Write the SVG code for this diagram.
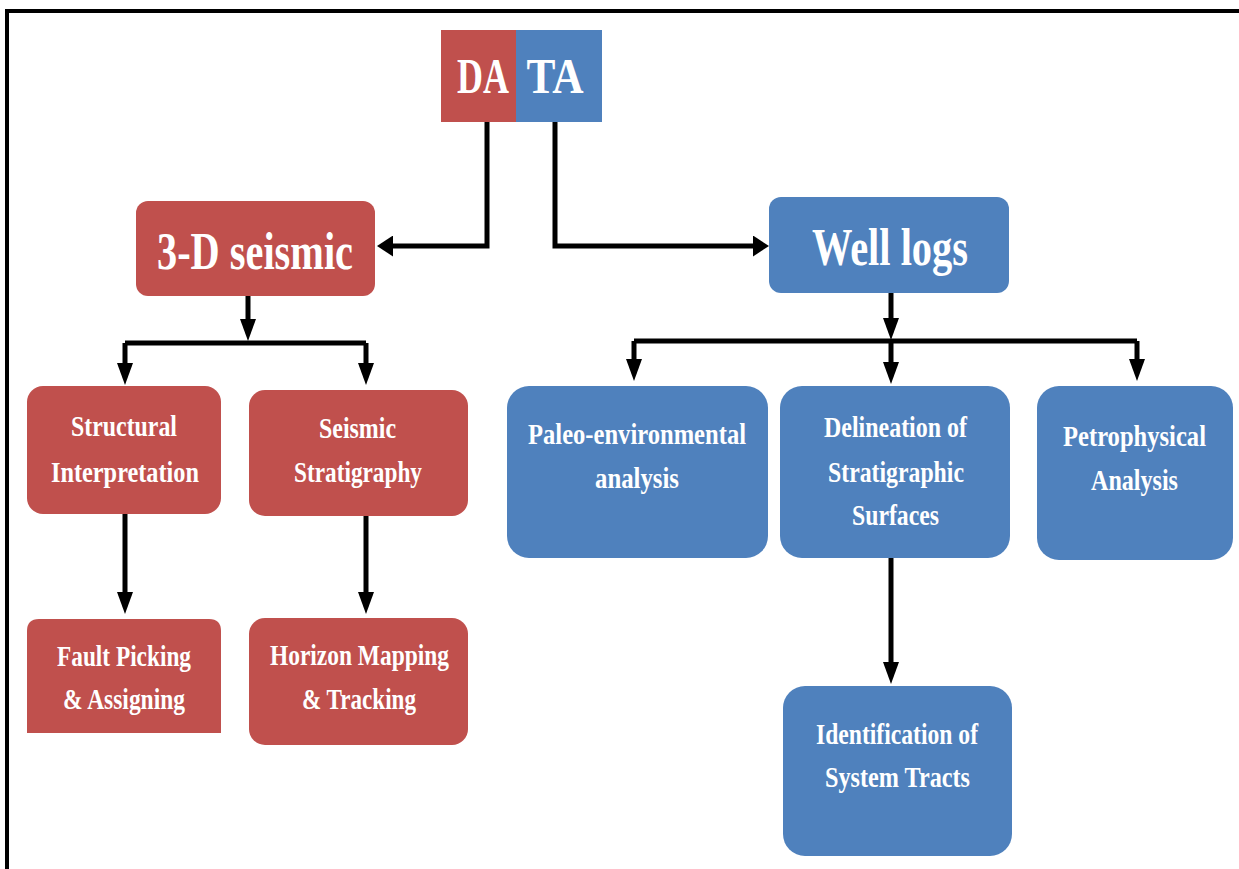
<svg xmlns="http://www.w3.org/2000/svg" width="1239" height="869" viewBox="0 0 1239 869">
<defs>
<style>
.red{fill:#C0504D}
.blue{fill:#4F81BD}
.t{font-family:"Liberation Serif","Times New Roman",serif;font-weight:bold;fill:#FFFFFF;font-size:30px}
.big{font-size:53px}
.mid{text-anchor:middle;font-size:50px}
.c{fill:none;stroke:#000;stroke-width:5}
</style>
<marker id="arrV" markerUnits="userSpaceOnUse" markerWidth="22" markerHeight="16" viewBox="0 0 22 16" refX="8" refY="8" orient="auto"><path d="M0,0 L22,8 L0,16 Z" fill="#000"/></marker>
<marker id="arrH" markerUnits="userSpaceOnUse" markerWidth="16" markerHeight="21" viewBox="0 0 16 21" refX="4" refY="10.5" orient="auto"><path d="M0,0 L16,10.5 L0,21 Z" fill="#000"/></marker>
</defs>
<rect x="0" y="0" width="1239" height="869" fill="#FFFFFF"/>
<rect x="7" y="11" width="1300" height="900" fill="none" stroke="#000" stroke-width="4"/>

<g id="connectors">
<path class="c" d="M487,122 V246 H389" marker-end="url(#arrH)"/>
<path class="c" d="M555,122 V246 H757" marker-end="url(#arrH)"/>
<path class="c" d="M248,296 V327" marker-end="url(#arrV)"/>
<path class="c" d="M125,343 H366"/>
<path class="c" d="M125,343 V371" marker-end="url(#arrV)"/>
<path class="c" d="M366,343 V371" marker-end="url(#arrV)"/>
<path class="c" d="M125,514 V600" marker-end="url(#arrV)"/>
<path class="c" d="M366,516 V600" marker-end="url(#arrV)"/>
<path class="c" d="M891,293 V326" marker-end="url(#arrV)"/>
<path class="c" d="M634,341 H1137"/>
<path class="c" d="M634,341 V367" marker-end="url(#arrV)"/>
<path class="c" d="M891,341 V370" marker-end="url(#arrV)"/>
<path class="c" d="M1137,341 V367" marker-end="url(#arrV)"/>
<path class="c" d="M891,558 V670" marker-end="url(#arrV)"/>
</g>

<g id="data">
<rect class="red" x="441" y="30" width="76" height="92"/>
<rect class="blue" x="516" y="30" width="86" height="92"/>
<text class="t mid" x="483" y="93" textLength="52" lengthAdjust="spacingAndGlyphs">DA</text>
<text class="t mid" x="555" y="93" textLength="57" lengthAdjust="spacingAndGlyphs">TA</text>
</g>

<g id="seismic3d">
<rect class="red" x="136" y="201" width="239" height="95" rx="12"/>
<text class="t big" x="157" y="269" textLength="196" lengthAdjust="spacingAndGlyphs">3-D seismic</text>
</g>

<g id="welllogs">
<rect class="blue" x="769" y="197" width="240" height="96" rx="12"/>
<text class="t big" x="812" y="265" textLength="156" lengthAdjust="spacingAndGlyphs">Well logs</text>
</g>

<g id="structural">
<rect class="red" x="27" y="386" width="194" height="128" rx="16"/>
<text class="t" x="71" y="436" textLength="106" lengthAdjust="spacingAndGlyphs">Structural</text>
<text class="t" x="51" y="482" textLength="148" lengthAdjust="spacingAndGlyphs">Interpretation</text>
</g>

<g id="seismicstrat">
<rect class="red" x="249" y="390" width="219" height="126" rx="16"/>
<text class="t" x="319" y="438" textLength="77" lengthAdjust="spacingAndGlyphs">Seismic</text>
<text class="t" x="294" y="482" textLength="128" lengthAdjust="spacingAndGlyphs">Stratigraphy</text>
</g>

<g id="fault">
<path class="red" d="M27,733 V631 Q27,619 39,619 H209 Q221,619 221,631 V733 Z"/>
<text class="t" x="57" y="666" textLength="134" lengthAdjust="spacingAndGlyphs">Fault Picking</text>
<text class="t" x="63" y="709" textLength="122" lengthAdjust="spacingAndGlyphs">&amp; Assigning</text>
</g>

<g id="horizon">
<rect class="red" x="249" y="618" width="219" height="127" rx="16"/>
<text class="t" x="270" y="665" textLength="179" lengthAdjust="spacingAndGlyphs">Horizon Mapping</text>
<text class="t" x="302" y="709" textLength="114" lengthAdjust="spacingAndGlyphs">&amp; Tracking</text>
</g>

<g id="paleo">
<rect class="blue" x="507" y="386" width="261" height="172" rx="22"/>
<text class="t" x="528" y="444" textLength="218" lengthAdjust="spacingAndGlyphs">Paleo-environmental</text>
<text class="t" x="595" y="488" textLength="84" lengthAdjust="spacingAndGlyphs">analysis</text>
</g>

<g id="delineation">
<rect class="blue" x="780" y="386" width="230" height="172" rx="22"/>
<text class="t" x="824" y="437" textLength="143" lengthAdjust="spacingAndGlyphs">Delineation of</text>
<text class="t" x="828" y="482" textLength="136" lengthAdjust="spacingAndGlyphs">Stratigraphic</text>
<text class="t" x="852" y="525" textLength="87" lengthAdjust="spacingAndGlyphs">Surfaces</text>
</g>

<g id="petro">
<rect class="blue" x="1037" y="386" width="196" height="174" rx="22"/>
<text class="t" x="1063" y="446" textLength="143" lengthAdjust="spacingAndGlyphs">Petrophysical</text>
<text class="t" x="1091" y="490" textLength="87" lengthAdjust="spacingAndGlyphs">Analysis</text>
</g>

<g id="identification">
<rect class="blue" x="783" y="686" width="229" height="170" rx="22"/>
<text class="t" x="816" y="744" textLength="162" lengthAdjust="spacingAndGlyphs">Identification of</text>
<text class="t" x="825" y="787" textLength="145" lengthAdjust="spacingAndGlyphs">System Tracts</text>
</g>
</svg>
